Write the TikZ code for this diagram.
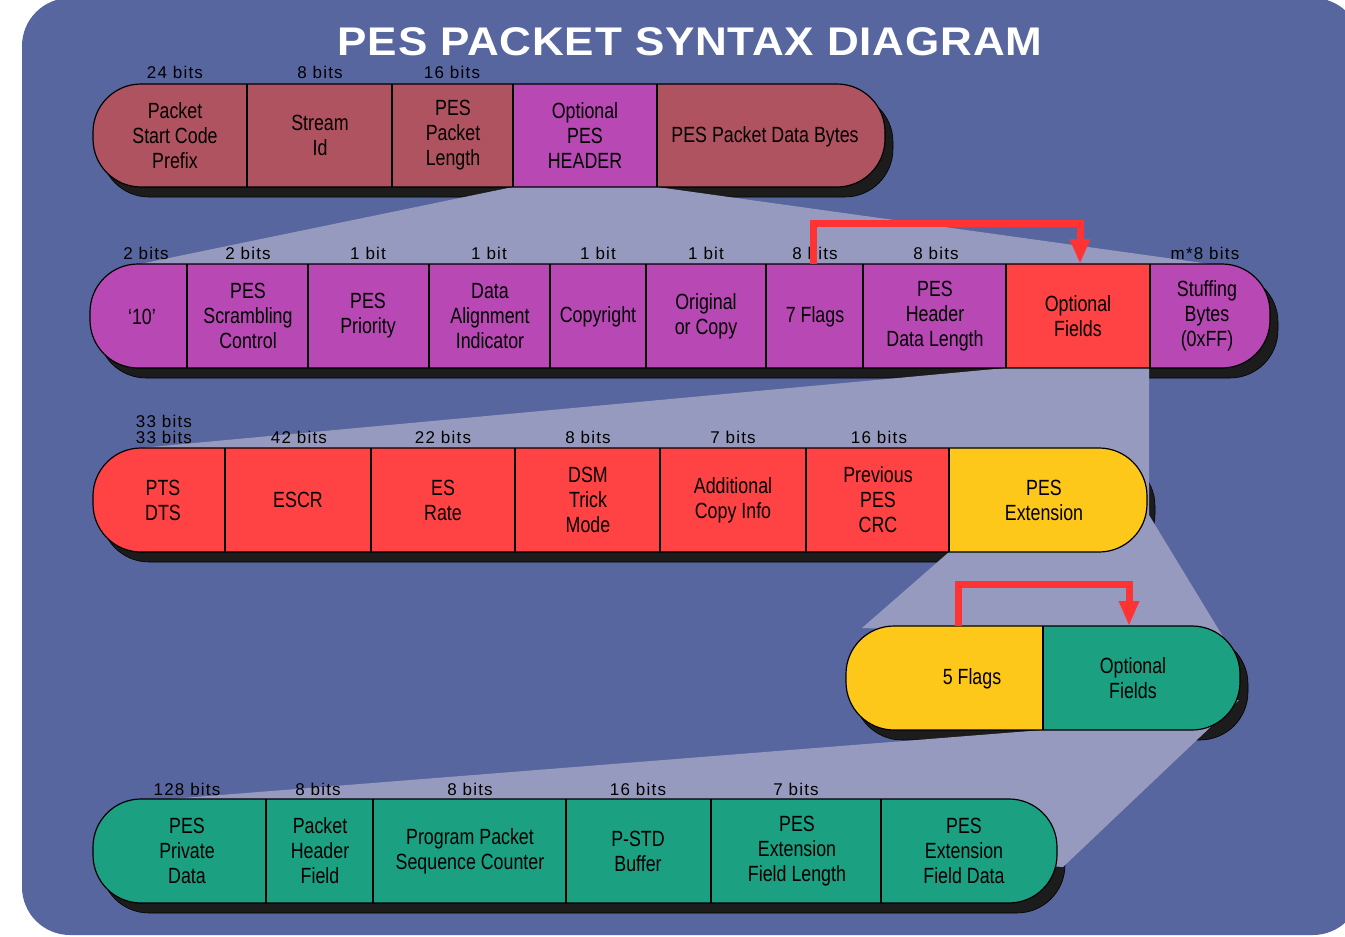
\documentclass[tikz,border=0pt]{standalone}
\usepackage{fontspec}
\setmainfont{Liberation Sans}
\newfontfamily\cellfont[FakeStretch=0.81]{Liberation Sans}
\newfontfamily\bitsfont[LetterSpace=7]{Liberation Sans}
\newfontfamily\titlefont[LetterSpace=2,FakeStretch=1.1]{Liberation Sans}
\usetikzlibrary{arrows.meta}
\definecolor{bgblue}{RGB}{87,102,158}
\definecolor{lightfun}{RGB}{151,154,191}
\definecolor{maroonc}{RGB}{176,83,96}
\definecolor{magentac}{RGB}{184,72,180}
\definecolor{redc}{RGB}{255,66,68}
\definecolor{yellowc}{RGB}{253,200,26}
\definecolor{greenc}{RGB}{27,160,130}
\definecolor{arrowred}{RGB}{255,51,51}
\definecolor{shadowc}{RGB}{28,28,28}
\tikzset{
  cell/.style={font=\cellfont\fontsize{22}{25}\selectfont, align=center, inner sep=0pt, text=black},
  bits/.style={font=\bitsfont\fontsize{17}{16}\selectfont, align=center, inner sep=0pt, text=black},
  titletext/.style={font=\titlefont\bfseries\fontsize{40}{40}\selectfont, inner sep=0pt, text=white},
  outline/.style={draw=black, line width=1.2pt, rounded corners=48pt},
  divider/.style={draw=black, line width=1.8pt},
  shadowbox/.style={fill=shadowc, draw=black, line width=0.6pt, rounded corners=48pt},
  funnel/.style={fill=lightfun},
  flagarrow/.style={draw=arrowred, line width=7pt, line join=miter, -{Triangle[width=19pt,length=25pt]}},
}
\begin{document}
\begin{tikzpicture}[x=1pt,y=-1pt]
\useasboundingbox (0,0) rectangle (1345,937);
\fill[white] (0,0) rectangle (1345,937);
\fill[bgblue, rounded corners=48pt] (22,-2) rectangle (1361,935);
\node[titletext] (title) at (690,42) {PES PACKET SYNTAX DIAGRAM};

% shadows
\path[shadowbox] (101,94) rectangle (893,197);
\path[shadowbox] (98,274) rectangle (1278,378);
\path[shadowbox] (101,458) rectangle (1155,562);
\path[shadowbox] (854,636) rectangle (1248,740);
\path[shadowbox] (101,809) rectangle (1065,913);

% funnels
\fill[funnel] (513,187) -- (657,187) -- (1210,264) -- (140,264) -- cycle;
\fill[funnel] (1006,368) -- (1149,368) -- (1149,520) -- (1000,520) -- (140,448) -- cycle;
\fill[funnel] (949,552) -- (1149,515) -- (1225,640) -- (862,628) -- cycle;
\fill[funnel] (1043,730) -- (1239,700) -- (1063,867) -- (170,799) -- cycle;

% row 1
\begin{scope}
\clip[rounded corners=48pt] (93,84) rectangle (885,187);
\fill[maroonc] (93,84) rectangle (885,187);
\fill[magentac] (513,84) rectangle (657,187);
\end{scope}
\draw[outline] (93,84) rectangle (885,187);
\foreach \x in {247,392,513,657} \draw[divider] (\x,84) -- (\x,187);

% row 2
\begin{scope}
\clip[rounded corners=48pt] (90,264) rectangle (1270,368);
\fill[magentac] (90,264) rectangle (1270,368);
\fill[redc] (1006,264) rectangle (1150,368);
\end{scope}
\draw[outline] (90,264) rectangle (1270,368);
\foreach \x in {187,308,429,550,646,766,863,1006,1150} \draw[divider] (\x,264) -- (\x,368);

% row 3
\begin{scope}
\clip[rounded corners=48pt] (93,448) rectangle (1147,552);
\fill[redc] (93,448) rectangle (1147,552);
\fill[yellowc] (949,448) rectangle (1147,552);
\end{scope}
\draw[outline] (93,448) rectangle (1147,552);
\foreach \x in {225,371,515,660,806,949} \draw[divider] (\x,448) -- (\x,552);

% row 4
\begin{scope}
\clip[rounded corners=48pt] (846,626) rectangle (1240,730);
\fill[yellowc] (846,626) rectangle (1240,730);
\fill[greenc] (1043,626) rectangle (1240,730);
\end{scope}
\draw[outline] (846,626) rectangle (1240,730);
\draw[divider] (1043,626) -- (1043,730);

% row 5
\begin{scope}
\clip[rounded corners=48pt] (93,799) rectangle (1057,903);
\fill[greenc] (93,799) rectangle (1057,903);
\end{scope}
\draw[outline] (93,799) rectangle (1057,903);
\foreach \x in {266,373,566,711,881} \draw[divider] (\x,799) -- (\x,903);

% bits labels
\node[bits] (b1a) at (175,72) {24 bits};
\node[bits] (b1b) at (320,72) {8 bits};
\node[bits] (b1c) at (452,72) {16 bits};

\node[bits] (b2a) at (146,253) {2 bits};
\node[bits] (b2b) at (248,253) {2 bits};
\node[bits] (b2c) at (368,253) {1 bit};
\node[bits] (b2d) at (489,253) {1 bit};
\node[bits] (b2e) at (598,253) {1 bit};
\node[bits] (b2f) at (706,253) {1 bit};
\node[bits] (b2g) at (815,253) {8 bits};
\node[bits] (b2h) at (936,253) {8 bits};
\node[bits] (b2i) at (1205,253) {m*8 bits};

\node[bits] (b3a0) at (164,421) {33 bits};
\node[bits] (b3a) at (164,437) {33 bits};
\node[bits] (b3b) at (299,437) {42 bits};
\node[bits] (b3c) at (443,437) {22 bits};
\node[bits] (b3d) at (588,437) {8 bits};
\node[bits] (b3e) at (733,437) {7 bits};
\node[bits] (b3f) at (879,437) {16 bits};

\node[bits] (b5a) at (187,789) {128 bits};
\node[bits] (b5b) at (318,789) {8 bits};
\node[bits] (b5c) at (470,789) {8 bits};
\node[bits] (b5d) at (638,789) {16 bits};
\node[bits] (b5e) at (796,789) {7 bits};

% cell texts row 1
\node[cell] (pscp) at (175,135.5) {Packet\\Start Code\\Prefix};
\node[cell] (sid) at (320,135.5) {Stream\\Id};
\node[cell] (ppl) at (453,135.5) {PES\\Packet\\Length};
\node[cell] (oph) at (585,135.5) {Optional\\PES\\HEADER};
\node[cell] (ppdb) at (765,137) {PES Packet Data Bytes};

% row 2
\node[cell] (ten) at (142,317) {‘10’};
\node[cell] (psc) at (248,316) {PES\\Scrambling\\Control};
\node[cell] (ppri) at (368,316) {PES\\Priority};
\node[cell] (dai) at (490,316) {Data\\Alignment\\Indicator};
\node[cell] (copy) at (598,317) {Copyright};
\node[cell] (ooc) at (706,316) {Original\\or Copy};
\node[cell] (flags7) at (815,317) {7 Flags};
\node[cell] (phdl) at (935,316) {PES\\Header\\Data Length};
\node[cell] (optf) at (1078,316) {Optional\\Fields};
\node[cell] (stuff) at (1207,316) {Stuffing\\Bytes\\(0xFF)};

% row 3
\node[cell] (ptsdts) at (163,500) {PTS\\DTS};
\node[cell] (escr) at (298,500) {ESCR};
\node[cell] (esrate) at (443,500) {ES\\Rate};
\node[cell] (dsm) at (588,500) {DSM\\Trick\\Mode};
\node[cell] (aci) at (733,500) {Additional\\Copy Info};
\node[cell] (ppcrc) at (878,500) {Previous\\PES\\CRC};
\node[cell] (pext) at (1044,500) {PES\\Extension};

% row 4
\node[cell] (flags5) at (972,679) {5 Flags};
\node[cell] (optf2) at (1133,678) {Optional\\Fields};

% row 5
\node[cell] (ppd) at (187,851) {PES\\Private\\Data};
\node[cell] (phf) at (320,851) {Packet\\Header\\Field};
\node[cell] (ppsc) at (470,851) {Program Packet\\Sequence Counter};
\node[cell] (pstd) at (638,851) {P-STD\\Buffer};
\node[cell] (pefl) at (797,851) {PES\\Extension\\Field Length};
\node[cell] (pefd) at (964,851) {PES\\Extension\\Field Data};

% arrows
\coordinate (a1s) at (813,264);
\coordinate (a1e) at (1080,264);
\draw[flagarrow] (a1s) -- ++(0,-41) -| (a1e);
\coordinate (a2s) at (958,626);
\coordinate (a2e) at (1129,626);
\draw[flagarrow] (a2s) -- ++(0,-42) -| (a2e);
\end{tikzpicture}
\end{document}
